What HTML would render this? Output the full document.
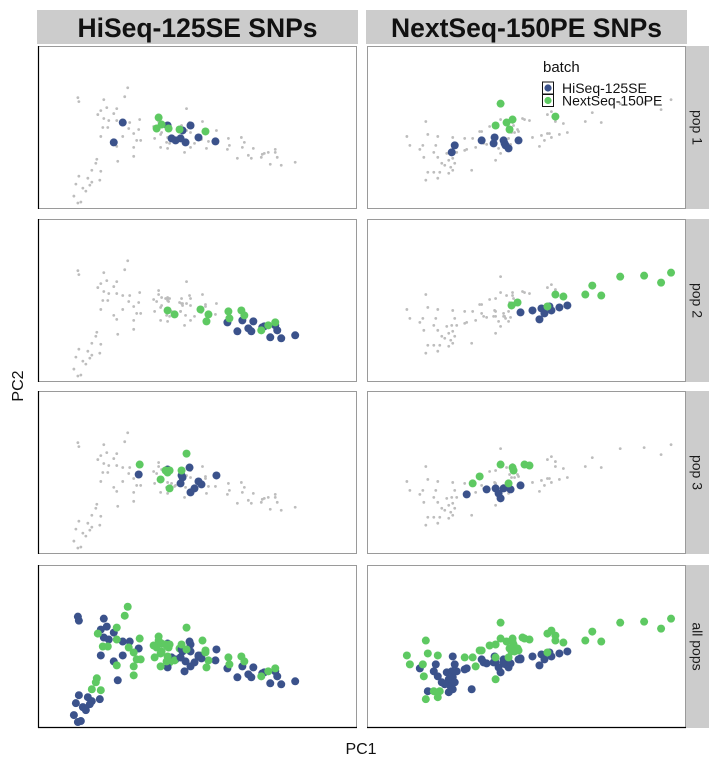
<!DOCTYPE html>
<html><head><meta charset="utf-8"><style>
body{margin:0;background:#fff;}
svg{display:block;font-family:"Liberation Sans",sans-serif;}
</style></head><body>
<svg id="chart" width="720" height="768" viewBox="0 0 720 768"></svg>
<script>
// Data: panel-local PC1 (0..320) and PC2 (0..164, downward) values; [pc1, pc2, batch, pop]
const columns = ["HiSeq-125SE SNPs","NextSeq-150PE SNPs"];
const rowLabels = ["pop 1","pop 2","pop 3","all pops"];
const batches = ["HiSeq-125SE","NextSeq-150PE"];
const leftPoints = [
[85,77,0,1],[76,97,0,1],[130,80,0,1],[145,85,0,1],[153,80,0,1],[134,93,0,1],[143,93,0,1],[148,97,0,1],[161,92,0,1],[178,96,0,1],[138,95,0,1],
[121,72,1,1],[124,79,1,1],[119,83,1,1],[131,83,1,1],[168,86,1,1],[142,84,1,1],
[190,104,0,2],[200,113,0,2],[205,102,0,2],[211,110,0,2],[214,113,0,2],[216,103,0,2],[225,109,0,2],[227,108,0,2],[238,107,0,2],[240,112,0,2],[233,119,0,2],[244,120,0,2],[258,117,0,2],
[130,92,1,2],[137,96,1,2],[163,91,1,2],[171,96,1,2],[169,103,1,2],[191,93,1,2],[192,100,1,2],[204,92,1,2],[207,97,1,2],[224,112,1,2],[231,107,1,2],[238,104,1,2],
[101,84,0,3],[130,79,0,3],[152,77,0,3],[144,85,0,3],[145,87,0,3],[143,93,0,3],[161,91,0,3],[164,94,0,3],[157,98,0,3],[153,102,0,3],[179,85,0,3],
[102,74,1,3],[123,89,1,3],[128,80,1,3],[132,80,1,3],[130,82,1,3],[144,80,1,3],[149,63,1,3],[132,98,1,3],
[40,52,0,0],[41,56,0,0],[66,54,0,0],[63,65,0,0],[69,62,0,0],[76,68,0,0],[66,73,0,0],[71,75,0,0],[92,77,0,0],[63,91,0,0],[85,91,0,0],[80,116,0,0],[41,131,0,0],[38,139,0,0],[50,133,0,0],[54,137,0,0],[45,143,0,0],[48,146,0,0],[62,135,0,0],[52,140,0,0],[36,151,0,0],[40,158,0,0],[43,157,0,0],[147,107,0,0],[130,103,0,0],[153,87,0,0],
[90,42,1,0],[87,51,1,0],[79,63,1,0],[60,69,1,0],[79,75,1,0],[65,82,1,0],[70,82,1,0],[91,83,1,0],[96,88,1,0],[99,95,1,0],[103,95,1,0],[96,102,1,0],[96,111,1,0],[79,101,1,0],[117,93,1,0],[124,87,1,0],[123,102,1,0],[129,97,1,0],[59,114,1,0],[58,118,1,0],[54,125,1,0],[63,126,1,0],[116,81,1,0],[121,76,1,0],[149,85,1,0],[165,76,1,0],[168,88,1,0]
];
const rightPoints = [
[88,100,0,1],[85,107,0,1],[115,95,0,1],[128,92,0,1],[127,98,0,1],[137,95,0,1],[138,98,0,1],[142,103,0,1],[152,95,0,1],[139,100,0,1],
[134,58,1,1],[129,80,1,1],[140,77,1,1],[146,74,1,1],[143,84,1,1],[189,71,1,1],
[154,94,0,2],[166,92,0,2],[173,101,0,2],[175,90,0,2],[183,88,0,2],[185,92,0,2],[193,89,0,2],[201,87,0,2],[178,95,0,2],
[145,87,1,2],[151,84,1,2],[181,88,1,2],[189,76,1,2],[197,78,1,2],[219,76,1,2],[226,67,1,2],[235,77,1,2],[254,58,1,2],[278,57,1,2],[295,64,1,2],[305,54,1,2],
[100,104,0,3],[120,99,0,3],[129,98,0,3],[132,103,0,3],[134,108,0,3],[137,98,0,3],[144,99,0,3],[154,95,0,3],
[106,93,1,3],[113,86,1,3],[134,74,1,3],[146,77,1,3],[147,80,1,3],[142,93,1,3],[158,74,1,3],[163,75,1,3],
[86,92,0,0],[53,104,0,0],[67,107,0,0],[69,100,0,0],[80,108,0,0],[82,115,0,0],[75,118,0,0],[84,122,0,0],[82,128,0,0],[61,127,0,0],[86,125,0,0],[90,107,0,0],[98,105,0,0],[105,125,0,0],[117,98,0,0],[86,113,0,0],[71,112,0,0],[78,120,0,0],[88,118,0,0],
[40,91,1,0],[43,100,1,0],[59,76,1,0],[61,89,1,0],[71,91,1,0],[56,100,1,0],[57,112,1,0],[59,135,1,0],[71,133,1,0],[67,127,1,0],[73,127,1,0],[98,93,1,0],[109,102,1,0],[115,86,1,0],[123,81,1,0],[129,93,1,0],[129,115,1,0],[148,87,1,0],[152,86,1,0],[156,73,1,0],[181,69,1,0],[185,66,1,0]
];
const NS="http://www.w3.org/2000/svg";
const svg=document.getElementById('chart');
const colX=[38,367], panelW=319;
const rowY=[46,219,391,565], panelH=163;
const batchColor=["#3b528b","#5ec962"];
function el(tag,attrs,parent){const e=document.createElementNS(NS,tag);for(const k in attrs)e.setAttribute(k,attrs[k]);(parent||svg).appendChild(e);return e;}
function xScale(c,v){return colX[c]+v*panelW/320;}
function yScale(r,v){return rowY[r]+v*panelH/164;}
columns.forEach((name,c)=>{
  const g=el('g',{});
  
  
  el('rect',{x:colX[c]-1,y:10,width:panelW+2,height:34,fill:'#cccccc'},g);
  const t=el('text',{x:colX[c]+panelW/2,y:37,'text-anchor':'middle','font-size':'26.5','font-weight':'bold',fill:'#111'},g);
  t.textContent=name;
});
rowLabels.forEach((name,r)=>{
  const g=el('g',{});
  
  
  el('rect',{x:686,y:rowY[r],width:23,height:panelH,fill:'#cccccc'},g);
  const cx=697.5, cy=rowY[r]+panelH/2;
  const t=el('text',{x:cx,y:cy,'text-anchor':'middle','dominant-baseline':'central','font-size':'14',fill:'#1a1a1a',transform:`rotate(90 ${cx} ${cy})`},g);
  t.textContent=name;
});
[leftPoints,rightPoints].forEach((pts,c)=>{
  for(let r=0;r<4;r++){
    const g=el('g',{});
    
    
    el('rect',{x:colX[c]+0.5,y:rowY[r]+0.5,width:panelW-1,height:panelH-1,fill:'#fff',stroke:'#9a9a9a','stroke-width':1},g);
    if(c===0) el('line',{x1:colX[c]+0.5,y1:rowY[r],x2:colX[c]+0.5,y2:rowY[r]+panelH,stroke:'#000','stroke-width':1.2},g);
    if(r===3) el('line',{x1:colX[c],y1:rowY[r]+panelH-0.5,x2:colX[c]+panelW,y2:rowY[r]+panelH-0.5,stroke:'#000','stroke-width':1.2},g);
    const grey=[], col=[];
    pts.forEach(p=>{ if(r===3 || p[3]===r+1) col.push(p); else grey.push(p); });
    grey.forEach(p=>{
      const d=el('circle',{cx:xScale(c,p[0]),cy:yScale(r,p[1]),r:1.4,fill:'#bdbdbd'},g);
      
      
    });
    col.forEach(p=>{
      const d=el('circle',{cx:xScale(c,p[0]),cy:yScale(r,p[1]),r:4,fill:batchColor[p[2]]},g);
      
      
    });
  }
});
const xt=el('text',{x:361,y:754,'text-anchor':'middle','font-size':'16',fill:'#111'});
xt.textContent='PC1';


const yt=el('text',{x:23,y:386,'text-anchor':'middle','font-size':'16',fill:'#111',transform:'rotate(-90 23 386)'});
yt.textContent='PC2';


const lg=el('g',{});


const lt=el('text',{x:543,y:72,'font-size':'15',fill:'#111'},lg);
lt.textContent='batch';
batches.forEach((b,i)=>{
  const y0=82+i*12.5;
  const e=el('g',{},lg);
  
  
  el('rect',{x:542.5,y:y0,width:11,height:12,fill:'#fff',stroke:'#111','stroke-width':1},e);
  el('circle',{cx:548,cy:y0+6,r:3.6,fill:batchColor[i]},e);
  const t=el('text',{x:562,y:y0+11,'font-size':'14',fill:'#111'},e);
  t.textContent=b;
});
</script>
</body></html>
